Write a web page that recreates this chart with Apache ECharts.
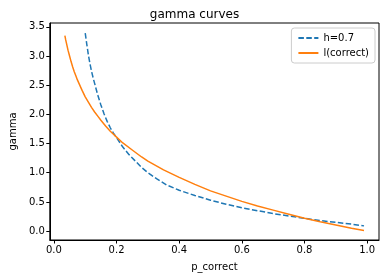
<!DOCTYPE html>
<html>
<head>
<meta charset="utf-8">
<script src="https://cdn.jsdelivr.net/npm/echarts@6/dist/echarts.min.js"></script>
<style>
html,body{margin:0;padding:0;background:#fff;}
#chart{width:389px;height:279px;}
</style>
</head>
<body>
<div id="chart"></div>
<script>
const xTicks = [0.0, 0.2, 0.4, 0.6, 0.8, 1.0];
const yTicks = [0.0, 0.5, 1.0, 1.5, 2.0, 2.5, 3.0, 3.5];

const hX = [0.1, 0.105, 0.11, 0.115, 0.12, 0.125, 0.13, 0.14, 0.15, 0.16, 0.17, 0.18, 0.19, 0.2, 0.22, 0.24, 0.26, 0.28, 0.3, 0.33, 0.36, 0.4, 0.45, 0.5, 0.55, 0.6, 0.65, 0.7, 0.75, 0.8, 0.85, 0.9, 0.95, 0.99];
const hY = [3.39, 3.20, 3.02, 2.87, 2.74, 2.63, 2.53, 2.33, 2.16, 2.01, 1.88, 1.77, 1.68, 1.60, 1.44, 1.31, 1.20, 1.09, 1.00, 0.89, 0.79, 0.70, 0.61, 0.53, 0.46, 0.40, 0.35, 0.30, 0.26, 0.22, 0.18, 0.15, 0.12, 0.09];

const lX = [0.035, 0.0375, 0.04, 0.045, 0.05, 0.055, 0.06, 0.065, 0.07, 0.075, 0.08, 0.09, 0.1, 0.11, 0.12, 0.13, 0.14, 0.15, 0.165, 0.18, 0.2, 0.22, 0.25, 0.28, 0.3, 0.35, 0.4, 0.45, 0.5, 0.55, 0.6, 0.65, 0.7, 0.75, 0.8, 0.85, 0.9, 0.95, 0.99];
const lY = [3.35, 3.28, 3.22, 3.10, 3.00, 2.90, 2.81, 2.73, 2.66, 2.59, 2.53, 2.41, 2.30, 2.21, 2.12, 2.04, 1.97, 1.90, 1.80, 1.71, 1.61, 1.51, 1.39, 1.27, 1.20, 1.05, 0.92, 0.80, 0.69, 0.60, 0.51, 0.43, 0.36, 0.29, 0.22, 0.16, 0.105, 0.05, 0.01];

const seriesNames = ['h=0.7', 'l(correct)'];

const chart = echarts.init(document.getElementById('chart'), null, {renderer: 'canvas'});
const font = 'DejaVu Sans';
chart.setOption({
  animation: false,
  backgroundColor: '#fff',
  textStyle: {fontFamily: font},
  title: {
    text: 'gamma curves', left: 'center', top: 4,
    textStyle: {fontFamily: font, fontSize: 12, fontWeight: 'normal', color: '#000'}
  },
  grid: {left: 44, right: 10, top: 23, bottom: 39, show: true, borderColor: '#000', borderWidth: 1},
  legend: {
    orient: 'vertical', right: 14, top: 28,
    itemWidth: 20, itemHeight: 10, itemGap: 5,
    padding: [5, 6, 5, 6],
    backgroundColor: '#fff', borderColor: '#ccc', borderWidth: 1, borderRadius: 3,
    itemStyle: {opacity: 0},
    textStyle: {fontFamily: font, fontSize: 10, color: '#000'},
    data: seriesNames
  },
  xAxis: {
    type: 'value', min: -0.0131, max: 1.0378,
    name: 'p_correct', nameLocation: 'middle', nameGap: 22,
    nameTextStyle: {fontFamily: font, fontSize: 10, color: '#000'},
    axisLine: {show: true, onZero: false, lineStyle: {color: '#000'}},
    axisTick: {show: true, customValues: xTicks, length: 3.5, lineStyle: {color: '#000'}},
    axisLabel: {customValues: xTicks, formatter: v => v.toFixed(1), fontFamily: font, fontSize: 10, color: '#000', margin: 5},
    splitLine: {show: false}
  },
  yAxis: {
    type: 'value', min: -0.152, max: 3.565,
    name: 'gamma', nameLocation: 'middle', nameGap: 30,
    nameTextStyle: {fontFamily: font, fontSize: 10, color: '#000'},
    axisLine: {show: true, onZero: false, lineStyle: {color: '#000'}},
    axisTick: {show: true, customValues: yTicks, length: 3.5, lineStyle: {color: '#000'}},
    axisLabel: {customValues: yTicks, formatter: v => v.toFixed(1), fontFamily: font, fontSize: 10, color: '#000', margin: 5},
    splitLine: {show: false}
  },
  series: [
    {
      name: seriesNames[0], type: 'line', symbol: 'none', smooth: false,
      data: hX.map((x, i) => [x, hY[i]]),
      lineStyle: {color: '#1f77b4', width: 1.5, type: [5.5, 2.4]},
      itemStyle: {color: '#1f77b4'}
    },
    {
      name: seriesNames[1], type: 'line', symbol: 'none', smooth: false,
      data: lX.map((x, i) => [x, lY[i]]),
      lineStyle: {color: '#ff7f0e', width: 1.5},
      itemStyle: {color: '#ff7f0e'}
    }
  ]
});
</script>
</body>
</html>
